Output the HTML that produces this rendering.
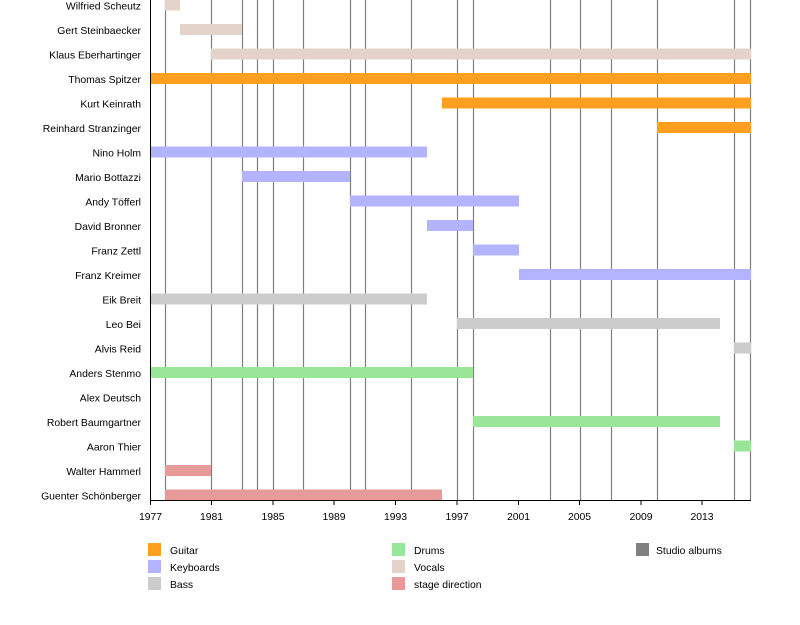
<!DOCTYPE html>
<html><head><meta charset="utf-8"><style>
body{margin:0;background:#fff}
svg{display:block;font-family:"Liberation Sans",sans-serif;font-size:10.4px;fill:#000}
</style></head><body>
<svg width="800" height="625" viewBox="0 0 800 625" xmlns="http://www.w3.org/2000/svg">
<g stroke="#808080" stroke-width="1.2">
<line x1="165.5" y1="0" x2="165.5" y2="500"/>
<line x1="211.5" y1="0" x2="211.5" y2="500"/>
<line x1="242.5" y1="0" x2="242.5" y2="500"/>
<line x1="257.5" y1="0" x2="257.5" y2="500"/>
<line x1="273.5" y1="0" x2="273.5" y2="500"/>
<line x1="303.5" y1="0" x2="303.5" y2="500"/>
<line x1="350.5" y1="0" x2="350.5" y2="500"/>
<line x1="365.5" y1="0" x2="365.5" y2="500"/>
<line x1="411.5" y1="0" x2="411.5" y2="500"/>
<line x1="457.5" y1="0" x2="457.5" y2="500"/>
<line x1="473.5" y1="0" x2="473.5" y2="500"/>
<line x1="550.5" y1="0" x2="550.5" y2="500"/>
<line x1="580.5" y1="0" x2="580.5" y2="500"/>
<line x1="611.5" y1="0" x2="611.5" y2="500"/>
<line x1="657.5" y1="0" x2="657.5" y2="500"/>
<line x1="734.5" y1="0" x2="734.5" y2="500"/>
<line x1="750.5" y1="0" x2="750.5" y2="500"/>
</g>
<g fill="#ff9f1f">
<rect x="150" y="73" width="601" height="11"/>
<rect x="442" y="97.5" width="309" height="11"/>
<rect x="657" y="122" width="94" height="11"/>
</g>
<g fill="#e4d3ca">
<rect x="165" y="-0.5" width="15" height="11"/>
<rect x="180" y="24" width="62" height="11"/>
<rect x="211" y="48.5" width="540" height="11"/>
</g>
<g fill="#b3b3ff">
<rect x="150" y="146.5" width="277" height="11"/>
<rect x="242" y="171" width="108" height="11"/>
<rect x="350" y="195.5" width="169" height="11"/>
<rect x="427" y="220" width="46" height="11"/>
<rect x="473" y="244.5" width="46" height="11"/>
<rect x="519" y="269" width="232" height="11"/>
</g>
<g fill="#cccccc">
<rect x="150" y="293.5" width="277" height="11"/>
<rect x="457" y="318" width="263" height="11"/>
<rect x="734" y="342.5" width="17" height="11"/>
</g>
<g fill="#99e699">
<rect x="150" y="367" width="323" height="11"/>
<rect x="473" y="416" width="247" height="11"/>
<rect x="734" y="440.5" width="17" height="11"/>
</g>
<g fill="#e69a9a">
<rect x="165" y="465" width="46" height="11"/>
<rect x="165" y="489.5" width="277" height="11"/>
</g>
<g stroke="#000" stroke-width="1">
<line x1="150.5" y1="0" x2="150.5" y2="500.5"/>
<line x1="150" y1="500.5" x2="751" y2="500.5"/>
<line x1="150.5" y1="500" x2="150.5" y2="505"/><line x1="211.5" y1="500" x2="211.5" y2="505"/>
<line x1="273" y1="500" x2="273" y2="505"/><line x1="334" y1="500" x2="334" y2="505"/>
<line x1="395.5" y1="500" x2="395.5" y2="505"/><line x1="457" y1="500" x2="457" y2="505"/>
<line x1="518.5" y1="500" x2="518.5" y2="505"/><line x1="579.5" y1="500" x2="579.5" y2="505"/>
<line x1="641" y1="500" x2="641" y2="505"/><line x1="702" y1="500" x2="702" y2="505"/>
</g>
<g text-anchor="end">
<text x="141" y="9.5">Wilfried Scheutz</text>
<text x="141" y="34">Gert Steinbaecker</text>
<text x="141" y="58.5">Klaus Eberhartinger</text>
<text x="141" y="83">Thomas Spitzer</text>
<text x="141" y="107.5">Kurt Keinrath</text>
<text x="141" y="132">Reinhard Stranzinger</text>
<text x="141" y="156.5">Nino Holm</text>
<text x="141" y="181">Mario Bottazzi</text>
<text x="141" y="205.5">Andy Töfferl</text>
<text x="141" y="230">David Bronner</text>
<text x="141" y="254.5">Franz Zettl</text>
<text x="141" y="279">Franz Kreimer</text>
<text x="141" y="303.5">Eik Breit</text>
<text x="141" y="328">Leo Bei</text>
<text x="141" y="352.5">Alvis Reid</text>
<text x="141" y="377">Anders Stenmo</text>
<text x="141" y="401.5">Alex Deutsch</text>
<text x="141" y="426">Robert Baumgartner</text>
<text x="141" y="450.5">Aaron Thier</text>
<text x="141" y="475">Walter Hammerl</text>
<text x="141" y="499.5">Guenter Schönberger</text>
</g>
<g text-anchor="middle">
<text x="150.5" y="520">1977</text><text x="211.5" y="520">1981</text><text x="273" y="520">1985</text><text x="334" y="520">1989</text><text x="395.5" y="520">1993</text><text x="457" y="520">1997</text><text x="518.5" y="520">2001</text><text x="579.5" y="520">2005</text><text x="641" y="520">2009</text><text x="702" y="520">2013</text>
</g>
<rect x="148" y="543" width="13" height="13" fill="#ff9f1f"/>
<rect x="148" y="560" width="13" height="13" fill="#b3b3ff"/>
<rect x="148" y="577" width="13" height="13" fill="#cccccc"/>
<rect x="392" y="543" width="13" height="13" fill="#99e699"/>
<rect x="392" y="560" width="13" height="13" fill="#e4d3ca"/>
<rect x="392" y="577" width="13" height="13" fill="#e69a9a"/>
<rect x="636" y="543" width="13" height="13" fill="#808080"/>
<text x="170" y="554">Guitar</text>
<text x="170" y="571">Keyboards</text>
<text x="170" y="588">Bass</text>
<text x="414" y="554">Drums</text>
<text x="414" y="571">Vocals</text>
<text x="414" y="588">stage direction</text>
<text x="656" y="554">Studio albums</text>
</svg>
</body></html>
